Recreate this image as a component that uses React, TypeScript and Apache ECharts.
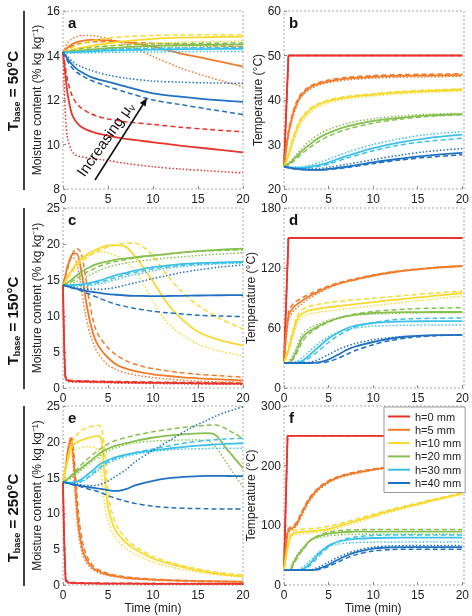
import React, { useEffect, useRef } from "react";
import * as echarts from "echarts";

const H_NAMES = ["h=0 mm", "h=5 mm", "h=10 mm", "h=20 mm", "h=30 mm", "h=40 mm"];
const H_COLORS = ["#e8352b", "#f27b2a", "#f9d92e", "#86c04f", "#3cc1ea", "#1f72c1"];

// Each h array: [solid, dashed, dotted]
// ---- Panel a : Tbase = 50°C, moisture ----
const T_A = [0, 0.25, 0.5, 1, 1.5, 2, 3, 4, 5, 7, 10, 13, 16, 20];
const A_H0 = [
  [14.15, 13.2, 12.3, 11.35, 11.0, 10.8, 10.6, 10.48, 10.4, 10.25, 10.1, 9.95, 9.82, 9.65],
  [14.15, 13.5, 12.9, 12.2, 11.85, 11.65, 11.4, 11.25, 11.15, 11.02, 10.9, 10.78, 10.68, 10.57],
  [14.15, 11.5, 10.3, 9.7, 9.5, 9.45, 9.38, 9.33, 9.28, 9.15, 9.0, 8.9, 8.82, 8.72],
];
const A_H5 = [
  [14.15, 14.25, 14.35, 14.5, 14.6, 14.65, 14.7, 14.7, 14.68, 14.6, 14.4, 14.1, 13.85, 13.5],
  [14.15, 14.22, 14.3, 14.42, 14.5, 14.55, 14.6, 14.62, 14.63, 14.6, 14.55, 14.5, 14.45, 14.4],
  [14.15, 14.35, 14.55, 14.75, 14.85, 14.9, 14.9, 14.85, 14.75, 14.5, 13.95, 13.45, 13.05, 12.6],
];
const A_H10 = [
  [14.15, 14.17, 14.2, 14.25, 14.3, 14.35, 14.42, 14.5, 14.55, 14.65, 14.75, 14.8, 14.82, 14.85],
  [14.15, 14.2, 14.25, 14.35, 14.45, 14.52, 14.63, 14.72, 14.78, 14.85, 14.9, 14.92, 14.93, 14.93],
  [14.15, 14.17, 14.2, 14.23, 14.27, 14.3, 14.35, 14.4, 14.45, 14.5, 14.55, 14.6, 14.62, 14.65],
];
const A_H20 = [
  [14.15, 14.15, 14.16, 14.18, 14.2, 14.22, 14.26, 14.3, 14.33, 14.38, 14.43, 14.46, 14.48, 14.5],
  [14.15, 14.16, 14.18, 14.22, 14.26, 14.3, 14.35, 14.4, 14.43, 14.48, 14.52, 14.54, 14.55, 14.56],
  [14.15, 14.15, 14.15, 14.16, 14.17, 14.18, 14.21, 14.24, 14.27, 14.31, 14.35, 14.37, 14.39, 14.4],
];
const A_H30 = [
  [14.15, 14.14, 14.14, 14.14, 14.15, 14.16, 14.18, 14.2, 14.22, 14.24, 14.26, 14.28, 14.29, 14.3],
  [14.15, 14.15, 14.15, 14.16, 14.17, 14.19, 14.22, 14.25, 14.27, 14.3, 14.32, 14.34, 14.35, 14.36],
  [14.15, 14.13, 14.12, 14.11, 14.11, 14.11, 14.12, 14.13, 14.14, 14.15, 14.16, 14.17, 14.18, 14.18],
];
const A_H40 = [
  [14.15, 14.0, 13.85, 13.6, 13.4, 13.27, 13.05, 12.92, 12.82, 12.6, 12.3, 12.15, 12.03, 11.92],
  [14.15, 13.95, 13.75, 13.45, 13.25, 13.12, 12.9, 12.75, 12.6, 12.35, 12.0, 11.8, 11.6, 11.35],
  [14.15, 14.05, 13.95, 13.75, 13.6, 13.5, 13.35, 13.22, 13.12, 12.98, 12.85, 12.8, 12.77, 12.75],
];

// ---- Panel b : Tbase = 50°C, temperature ----
const T_B = [0, 0.5, 1, 1.5, 2, 3, 4, 5, 7, 10, 13, 16, 20];
const B_RED = [25, 50, 50, 50, 50, 50, 50, 50, 50, 50, 50, 50, 50];
const B_H0 = [B_RED, B_RED, B_RED];
const B_H5 = [
  [25, 32.5, 36.8, 39.5, 41.2, 42.9, 43.7, 44.2, 44.8, 45.2, 45.4, 45.5, 45.6],
  [25, 33, 37.3, 40, 41.6, 43.2, 44, 44.5, 45.1, 45.5, 45.7, 45.8, 45.9],
  [25, 32, 36.2, 39, 40.8, 42.5, 43.4, 43.9, 44.5, 44.9, 45.1, 45.2, 45.3],
];
const B_H10 = [
  [25, 27.5, 31, 33.8, 35.8, 37.9, 39.1, 39.8, 40.6, 41.2, 41.7, 42, 42.3],
  [25, 27.8, 31.5, 34.3, 36.2, 38.2, 39.3, 40, 40.8, 41.4, 41.9, 42.2, 42.5],
  [25, 27, 30.3, 33, 35, 37.3, 38.6, 39.4, 40.2, 40.9, 41.4, 41.7, 42],
];
const B_H20 = [
  [25, 25.6, 26.5, 27.5, 28.5, 30.2, 31.6, 32.6, 34, 35.3, 36, 36.5, 36.8],
  [25, 25.4, 26.1, 27, 27.9, 29.5, 30.8, 31.9, 33.4, 34.8, 35.7, 36.3, 36.7],
  [25, 25.8, 26.9, 28, 29.1, 31, 32.4, 33.4, 34.7, 35.8, 36.4, 36.8, 37],
];
const B_H30 = [
  [25, 24.9, 24.8, 24.8, 24.8, 25.0, 25.4, 26, 27.4, 29.2, 30.5, 31.4, 32.2],
  [25, 24.9, 24.8, 24.7, 24.7, 24.8, 25.1, 25.6, 26.9, 28.6, 29.9, 30.7, 31.4],
  [25, 24.9, 24.9, 24.9, 25.0, 25.4, 26, 26.7, 28.2, 30, 31.3, 32.2, 32.9],
];
const B_H40 = [
  [25, 24.8, 24.6, 24.5, 24.4, 24.3, 24.3, 24.5, 25, 26, 26.8, 27.5, 28.1],
  [25, 24.8, 24.6, 24.5, 24.4, 24.3, 24.3, 24.4, 24.8, 25.7, 26.5, 27.1, 27.7],
  [25, 24.8, 24.7, 24.6, 24.5, 24.5, 24.6, 24.9, 25.5, 26.6, 27.6, 28.4, 29.1],
];

// ---- Panel c : Tbase = 150°C, moisture ----
const T_C = [0, 0.25, 0.5, 1, 1.5, 2, 2.5, 3, 3.5, 4, 5, 6, 7, 8, 9, 10, 11.5, 13, 15, 17.5, 20];
const C_H0 = [
  [14.3, 1.6, 1.05, 0.95, 0.92, 0.9, 0.9, 0.88, 0.86, 0.85, 0.83, 0.8, 0.78, 0.76, 0.74, 0.72, 0.7, 0.68, 0.65, 0.62, 0.6],
  [14.3, 1.9, 1.15, 1.05, 1.0, 0.98, 0.97, 0.96, 0.95, 0.94, 0.92, 0.9, 0.88, 0.86, 0.84, 0.82, 0.8, 0.78, 0.75, 0.72, 0.7],
  [14.3, 1.4, 0.95, 0.85, 0.82, 0.8, 0.8, 0.78, 0.76, 0.75, 0.73, 0.7, 0.68, 0.66, 0.64, 0.62, 0.6, 0.58, 0.55, 0.52, 0.5],
];
const C_H5 = [
  [14.3, 15.5, 16.8, 18.5, 18.7, 16.5, 12.5, 9.2, 7.0, 5.7, 4.2, 3.2, 2.7, 2.35, 2.1, 1.9, 1.7, 1.5, 1.35, 1.2, 1.05],
  [14.3, 15.3, 16.5, 18.5, 19.4, 18.8, 15.5, 11.5, 8.7, 7.2, 5.6, 4.5, 3.8, 3.3, 2.95, 2.7, 2.4, 2.15, 1.9, 1.7, 1.5],
  [14.3, 15.6, 17, 18.2, 17.5, 14, 10.2, 7.5, 5.8, 4.6, 3.2, 2.5, 2.1, 1.8, 1.6, 1.45, 1.25, 1.1, 0.95, 0.85, 0.8],
];
const C_H10 = [
  [14.3, 14.8, 15.4, 16.4, 17.3, 17.9, 18.4, 18.8, 19.1, 19.4, 19.8, 19.8, 19.6, 18.3, 16.6, 14.8, 11.9, 9.8, 7.8, 6.6, 5.9],
  [14.3, 14.7, 15.2, 16.1, 16.9, 17.5, 18, 18.4, 18.8, 19.1, 19.6, 19.9, 20.1, 20.1, 19.5, 18.3, 15.8, 13.6, 11.5, 9.6, 8.2],
  [14.3, 14.8, 15.4, 16.3, 17.1, 17.7, 18.2, 18.5, 18.8, 18.9, 18.8, 18.3, 17.5, 16.3, 14.3, 12.0, 9.2, 7.6, 6.1, 5.1, 4.5],
];
const C_H20 = [
  [14.3, 14.4, 14.6, 15.1, 15.6, 16.1, 16.5, 16.8, 17.1, 17.3, 17.6, 17.85, 18.0, 18.15, 18.3, 18.4, 18.6, 18.8, 19.0, 19.2, 19.35],
  [14.3, 14.35, 14.45, 14.8, 15.2, 15.6, 16.0, 16.3, 16.6, 16.9, 17.3, 17.6, 17.85, 18.05, 18.25, 18.4, 18.6, 18.8, 19.0, 19.1, 19.2],
  [14.3, 14.3, 14.35, 14.5, 14.8, 15.1, 15.4, 15.7, 16.0, 16.3, 16.8, 17.1, 17.35, 17.55, 17.7, 17.85, 18.05, 18.2, 18.4, 18.6, 18.75],
];
const C_H30 = [
  [14.3, 14.25, 14.25, 14.3, 14.35, 14.4, 14.5, 14.6, 14.75, 14.9, 15.3, 15.7, 16.0, 16.3, 16.55, 16.8, 17.0, 17.2, 17.35, 17.45, 17.5],
  [14.3, 14.25, 14.2, 14.2, 14.25, 14.3, 14.38, 14.45, 14.55, 14.7, 15.0, 15.4, 15.75, 16.05, 16.3, 16.55, 16.8, 17.0, 17.2, 17.35, 17.45],
  [14.3, 14.2, 14.15, 14.1, 14.1, 14.15, 14.2, 14.25, 14.35, 14.45, 14.75, 15.1, 15.45, 15.75, 16.0, 16.3, 16.6, 16.85, 17.05, 17.25, 17.35],
];
const C_H40 = [
  [14.3, 14.2, 14.1, 13.95, 13.8, 13.65, 13.5, 13.4, 13.3, 13.2, 13.05, 12.95, 12.85, 12.8, 12.78, 12.77, 12.78, 12.8, 12.85, 12.88, 12.9],
  [14.3, 14.2, 14.1, 13.9, 13.7, 13.5, 13.25, 13.0, 12.75, 12.5, 12.0, 11.6, 11.3, 11.05, 10.85, 10.65, 10.45, 10.3, 10.1, 10.0, 9.9],
  [14.3, 14.2, 14.1, 13.95, 13.85, 13.8, 13.75, 13.7, 13.7, 13.7, 13.8, 14.0, 14.3, 14.6, 14.9, 15.2, 15.6, 16.0, 16.4, 16.8, 17.1],
];

// ---- Panel d : Tbase = 150°C, temperature ----
const T_D = [0, 0.5, 1, 1.5, 2, 2.5, 3, 4, 5, 6, 7, 8, 10, 12, 14, 17, 20];
const D_RED = [25, 150, 150, 150, 150, 150, 150, 150, 150, 150, 150, 150, 150, 150, 150, 150, 150];
const D_H0 = [D_RED, D_RED, D_RED];
const D_H5 = [
  [25, 72, 80, 84, 87, 90, 92.5, 97, 101, 104, 106.5, 108.5, 112.5, 115.5, 117.8, 120.3, 122],
  [25, 76, 84, 87.5, 90, 92.5, 94.5, 98.5, 102, 105, 107.3, 109.2, 113, 116, 118.2, 120.6, 122.3],
  [25, 68, 76, 80.5, 84, 87.5, 90.5, 95.5, 100, 103.3, 106, 108, 112, 115, 117.4, 120, 121.6],
];
const D_H10 = [
  [25, 38, 55, 69, 74, 76.5, 78, 79.5, 80.8, 81.8, 82.8, 83.8, 85.8, 87.8, 89.6, 92.3, 95],
  [25, 40, 58, 72, 78, 80.5, 82, 84, 85.5, 86.5, 87.5, 88.3, 89.8, 91.3, 92.8, 95, 97],
  [25, 36, 51, 65, 70.5, 73, 74.5, 76, 77.2, 78.2, 79.2, 80.2, 82.2, 84.3, 86.3, 89.2, 92],
];
const D_H20 = [
  [25, 25, 30, 39, 49.5, 54.5, 57.5, 62.5, 66.5, 69.5, 71.8, 73.3, 75, 75.7, 75.9, 76, 76],
  [25, 25, 28.5, 36, 45.5, 51.5, 55.5, 61.5, 66, 69.5, 72, 74, 76.5, 78, 79, 79.8, 80.3],
  [25, 26, 33, 43, 53, 57.5, 60.5, 64.5, 67.5, 70, 71.8, 72.8, 74, 74.6, 75, 75.2, 75.3],
];
const D_H30 = [
  [25, 25, 25, 25.5, 27, 30, 34, 42, 49.5, 55, 59.5, 62.3, 65, 66.2, 66.6, 66.8, 66.8],
  [25, 25, 25, 25.2, 26, 28, 31, 38, 45.5, 52, 57, 61, 65.5, 68, 69.2, 69.8, 70],
  [25, 25, 25.5, 27, 30, 34, 38, 45.5, 51.5, 55.5, 58.3, 60, 61.8, 62.5, 62.8, 63, 63],
];
const D_H40 = [
  [25, 25, 25, 25, 25, 25, 25, 25.8, 28.5, 33, 38, 41.5, 46, 49.5, 51.5, 52.8, 53.2],
  [25, 25, 25, 25, 25, 25, 25, 25.3, 26.5, 29.5, 33.5, 37.5, 43.3, 47.5, 50.3, 52.3, 53.3],
  [25, 25, 25, 25, 25, 25.3, 26, 29, 33.5, 38, 41.8, 44.5, 48.3, 50.5, 51.8, 52.6, 53],
];

// ---- Panel e : Tbase = 250°C, moisture ----
const T_E = [0, 0.3, 0.6, 0.9, 1.2, 1.5, 1.8, 2.2, 2.6, 3, 3.5, 4, 4.3, 4.6, 5, 5.5, 6, 7, 8, 10, 12, 14, 16, 17, 18, 19, 20];
const E_H0 = [
  [14.4, 0.6, 0.35, 0.3, 0.28, 0.27, 0.26, 0.25, 0.24, 0.23, 0.22, 0.21, 0.2, 0.2, 0.2, 0.2, 0.2, 0.19, 0.18, 0.17, 0.16, 0.15, 0.15, 0.15, 0.15, 0.15, 0.15],
  [14.4, 0.8, 0.45, 0.38, 0.35, 0.33, 0.32, 0.31, 0.3, 0.29, 0.28, 0.27, 0.26, 0.26, 0.25, 0.25, 0.25, 0.24, 0.23, 0.22, 0.21, 0.2, 0.2, 0.2, 0.2, 0.2, 0.2],
  [14.4, 0.5, 0.28, 0.24, 0.22, 0.21, 0.2, 0.19, 0.18, 0.17, 0.16, 0.15, 0.15, 0.15, 0.14, 0.14, 0.14, 0.13, 0.12, 0.11, 0.1, 0.1, 0.1, 0.1, 0.1, 0.1, 0.1],
];
const E_H5 = [
  [14.4, 16.5, 19.2, 20.4, 17.0, 11.5, 7.5, 4.8, 3.6, 2.8, 2.2, 1.9, 1.75, 1.6, 1.45, 1.3, 1.2, 1.0, 0.9, 0.75, 0.65, 0.58, 0.52, 0.5, 0.48, 0.46, 0.45],
  [14.4, 16.3, 19.0, 20.8, 18.5, 13.5, 9.0, 5.8, 4.2, 3.2, 2.5, 2.1, 1.95, 1.8, 1.62, 1.45, 1.33, 1.12, 1.0, 0.82, 0.7, 0.62, 0.56, 0.54, 0.52, 0.5, 0.48],
  [14.4, 16.6, 19.3, 19.8, 15.5, 10.0, 6.5, 4.2, 3.1, 2.5, 2.0, 1.7, 1.55, 1.45, 1.32, 1.2, 1.1, 0.92, 0.82, 0.68, 0.6, 0.53, 0.48, 0.46, 0.44, 0.42, 0.4],
];
const E_H10 = [
  [14.4, 16.3, 17.8, 19.0, 19.6, 19.9, 20.1, 20.3, 20.45, 20.6, 20.75, 20.8, 20.2, 15.5, 11.0, 8.6, 7.3, 5.9, 5.0, 3.7, 2.9, 2.3, 1.8, 1.6, 1.45, 1.3, 1.2],
  [14.4, 16.5, 18.2, 19.6, 20.4, 20.9, 21.3, 21.7, 21.9, 22.1, 22.2, 22.3, 21.9, 19.0, 13.0, 9.8, 8.2, 6.5, 5.4, 4.0, 3.1, 2.5, 2.0, 1.8, 1.65, 1.5, 1.4],
  [14.4, 16.0, 17.3, 18.2, 18.6, 18.9, 19.1, 19.2, 19.3, 19.3, 19.2, 18.5, 14.5, 11.5, 9.0, 7.3, 6.3, 5.1, 4.3, 3.2, 2.5, 2.0, 1.6, 1.45, 1.3, 1.2, 1.1],
];
const E_H20 = [
  [14.4, 14.6, 14.9, 15.2, 15.5, 15.8, 16.1, 16.5, 16.9, 17.3, 17.8, 18.3, 18.55, 18.8, 19.05, 19.3, 19.5, 19.8, 20.1, 20.6, 20.9, 21.1, 21.2, 20.9, 19.3, 17.8, 16.3],
  [14.4, 14.6, 14.9, 15.3, 15.7, 16.1, 16.5, 17.0, 17.5, 17.9, 18.4, 18.9, 19.15, 19.4, 19.7, 20.0, 20.25, 20.6, 20.9, 21.4, 21.8, 22.1, 22.3, 22.35, 21.9, 21.2, 20.5],
  [14.4, 14.5, 14.7, 14.9, 15.2, 15.5, 15.8, 16.2, 16.6, 17.0, 17.5, 17.9, 18.15, 18.4, 18.7, 19.0, 19.2, 19.6, 19.85, 20.1, 20.2, 20.25, 20.2, 19.2, 17.4, 15.5, 13.7],
];
const E_H30 = [
  [14.4, 14.35, 14.3, 14.3, 14.35, 14.45, 14.6, 14.9, 15.3, 15.7, 16.2, 16.8, 17.0, 17.2, 17.45, 17.7, 17.9, 18.2, 18.45, 18.8, 19.1, 19.35, 19.55, 19.65, 19.7, 19.75, 19.8],
  [14.4, 14.3, 14.25, 14.2, 14.25, 14.3, 14.4, 14.6, 14.9, 15.3, 15.8, 16.3, 16.6, 16.9, 17.2, 17.5, 17.75, 18.15, 18.5, 19.0, 19.5, 19.9, 20.2, 20.3, 20.4, 20.45, 20.5],
  [14.4, 14.3, 14.2, 14.15, 14.15, 14.2, 14.3, 14.5, 14.8, 15.1, 15.6, 16.1, 16.4, 16.7, 17.0, 17.3, 17.55, 17.95, 18.25, 18.65, 18.9, 19.0, 19.05, 19.1, 19.1, 19.1, 19.1],
];
const E_H40 = [
  [14.4, 14.3, 14.2, 14.1, 14.0, 13.95, 13.9, 13.8, 13.7, 13.65, 13.55, 13.45, 13.4, 13.35, 13.25, 13.15, 13.15, 13.4, 13.9, 14.55, 14.95, 15.15, 15.25, 15.25, 15.25, 15.2, 15.2],
  [14.4, 14.3, 14.2, 14.1, 14.0, 13.9, 13.8, 13.65, 13.5, 13.35, 13.2, 13.0, 12.85, 12.7, 12.5, 12.25, 12.05, 11.7, 11.4, 11.0, 10.8, 10.7, 10.65, 10.6, 10.6, 10.6, 10.6],
  [14.4, 14.3, 14.2, 14.15, 14.1, 14.05, 14.0, 13.95, 13.9, 13.9, 13.9, 14.0, 14.1, 14.25, 14.5, 14.9, 15.3, 16.1, 17.2, 18.8, 20.3, 21.8, 23.0, 23.6, 24.1, 24.5, 24.9],
];

// ---- Panel f : Tbase = 250°C, temperature ----
const T_F = [0, 0.4, 0.7, 1, 1.4, 1.8, 2.2, 2.8, 3.4, 4, 5, 6, 7, 8, 10, 12, 14, 17, 20];
const F_RED = [25, 250, 250, 250, 250, 250, 250, 250, 250, 250, 250, 250, 250, 250, 250, 250, 250, 250, 250];
const F_H0 = [F_RED, F_RED, F_RED];
const F_H5 = [
  [25, 88, 94, 96, 102, 114, 126, 142, 154, 163, 173, 180, 184.5, 188, 193.5, 197.5, 200.5, 203, 205],
  [25, 92, 97, 99, 105, 117, 129, 145, 156, 165, 175, 181.5, 186, 189.5, 194.5, 198.5, 201.3, 203.8, 205.5],
  [25, 84, 91, 93.5, 99, 110, 122, 139, 151, 160.5, 171, 178.5, 183, 186.5, 192.5, 196.5, 199.7, 202.3, 204.5],
];
const F_H10 = [
  [25, 62, 80, 86, 88, 89, 89.5, 90, 90.5, 91.5, 94, 98, 102.5, 107, 116, 124.5, 132, 143, 153],
  [25, 66, 84, 90, 92.5, 93.5, 94, 94.5, 95, 96, 98.5, 102, 106, 110, 118.5, 126.5, 134, 144.5, 154.5],
  [25, 58, 76, 82.5, 85, 86, 86.5, 87, 87.5, 88.5, 91, 95, 99.5, 104, 113.5, 122.5, 130, 141.5, 152],
];
const F_H20 = [
  [25, 25, 25, 35, 46, 55, 62, 73, 79, 82.5, 86, 87.8, 88.8, 89.3, 89.5, 89.5, 89.5, 89.5, 89.5],
  [25, 25, 25, 33, 43, 52.5, 60.5, 72, 79.5, 84, 88.5, 90.8, 92, 92.6, 93, 93, 93, 93, 93],
  [25, 25, 26, 38, 49, 57.5, 64, 73, 77.5, 80, 82.5, 83.8, 84.5, 84.8, 85, 85, 85, 85, 85],
];
const F_H30 = [
  [25, 25, 25, 25, 25, 25, 27, 34, 44, 54, 66, 72.5, 75.5, 77.3, 78.8, 79.2, 79.3, 79.3, 79.3],
  [25, 25, 25, 25, 25, 25, 26, 31.5, 40, 50, 64, 72.5, 77.5, 80.5, 83, 83.8, 84, 84, 84],
  [25, 25, 25, 25, 25.5, 27, 31, 39, 48, 56, 64.5, 68.5, 70.3, 71.2, 71.8, 72, 72, 72, 72],
];
const F_H40 = [
  [25, 25, 25, 25, 25, 25, 25, 25, 25.5, 28, 34, 42, 49, 54.5, 61, 63, 63.5, 63.5, 63.5],
  [25, 25, 25, 25, 25, 25, 25, 25, 25, 26.5, 31, 38, 45, 50.5, 57, 59.3, 60, 60, 60],
  [25, 25, 25, 25, 25, 25, 25, 25.5, 27, 31, 38.5, 46, 52.5, 57.5, 63.5, 65.5, 66, 66, 66],
];

const MOIST_NAME = "Moisture content (% kg kg⁻¹)";
const TEMP_NAME = "Temperature (°C)";
const TBASE_LABELS = ["50°C", "150°C", "250°C"];
const PANEL_LETTERS = ["a", "b", "c", "d", "e", "f"];

const PANELS = [
  { grid: { left: 63, top: 11, width: 180, height: 178 }, t: T_A, hs: [A_H0, A_H5, A_H10, A_H20, A_H30, A_H40], y: [8, 16, 2], temp: false, gap: 16 },
  { grid: { left: 284, top: 11, width: 180, height: 178 }, t: T_B, hs: [B_H0, B_H5, B_H10, B_H20, B_H30, B_H40], y: [20, 60, 10], temp: true, gap: 18 },
  { grid: { left: 63, top: 208, width: 180, height: 180 }, t: T_C, hs: [C_H0, C_H5, C_H10, C_H20, C_H30, C_H40], y: [0, 25, 5], temp: false, gap: 16 },
  { grid: { left: 284, top: 208, width: 180, height: 180 }, t: T_D, hs: [D_H0, D_H5, D_H10, D_H20, D_H30, D_H40], y: [0, 180, 60], temp: true, gap: 24 },
  { grid: { left: 63, top: 406, width: 180, height: 179 }, t: T_E, hs: [E_H0, E_H5, E_H10, E_H20, E_H30, E_H40], y: [0, 25, 5], temp: false, gap: 16 },
  { grid: { left: 284, top: 406, width: 180, height: 179 }, t: T_F, hs: [F_H0, F_H5, F_H10, F_H20, F_H30, F_H40], y: [0, 300, 100], temp: true, gap: 24 },
];

const LINE_TYPES: any[] = ["solid", [5, 3], [1.5, 2]];
const LINE_WIDTHS = [1.8, 1.5, 1.5];

export default function App() {
  const ref = useRef<HTMLDivElement>(null);
  useEffect(() => {
    if (!ref.current) return;
    const chart = echarts.init(ref.current, null, { renderer: "svg" });
    const font = "Liberation Sans, Arial, Helvetica, sans-serif";

    const grids = PANELS.map((p) => ({ ...p.grid, containLabel: false }));
    const xAxes = PANELS.map((p, i) => ({
      type: "value",
      gridIndex: i,
      min: 0,
      max: 20,
      interval: 5,
      axisLine: { show: false },
      axisTick: { show: true, inside: true, length: 3, lineStyle: { color: "#888" } },
      splitLine: { show: false },
      axisLabel: { fontSize: 12, color: "#222", margin: 4, fontFamily: font },
      name: i >= 4 ? "Time (min)" : "",
      nameLocation: "middle",
      nameGap: 14,
      nameTextStyle: { fontSize: 12, color: "#222", fontFamily: font, verticalAlign: "top" },
    }));
    const yAxes = PANELS.map((p, i) => ({
      type: "value",
      gridIndex: i,
      min: p.y[0],
      max: p.y[1],
      interval: p.y[2],
      axisLine: { show: false },
      axisTick: { show: true, inside: true, length: 3, lineStyle: { color: "#888" } },
      splitLine: { show: false },
      axisLabel: { fontSize: 12, color: "#222", margin: 3, fontFamily: font },
      name: p.temp ? TEMP_NAME : MOIST_NAME,
      nameLocation: "middle",
      nameRotate: 90,
      nameGap: p.gap,
      nameTextStyle: { fontSize: 12, color: "#222", fontFamily: font },
    }));

    const series: any[] = [];
    PANELS.forEach((p, pi) => {
      p.hs.forEach((hArr, hi) => {
        [2, 1, 0].forEach((si) => {
          const vals = hArr[si];
          series.push({
            type: "line",
            name: H_NAMES[hi],
            xAxisIndex: pi,
            yAxisIndex: pi,
            data: p.t.map((x, k) => [x, vals[k]]),
            symbol: "none",
            showSymbol: false,
            smooth: p.temp && hi === 0 ? false : 0.3,
            lineStyle: { color: H_COLORS[hi], width: LINE_WIDTHS[si], type: LINE_TYPES[si] },
            itemStyle: { color: H_COLORS[hi] },
          });
        });
      });
    });

    const graphics: any[] = [];
    PANELS.forEach((p, i) => {
      const g = p.grid;
      graphics.push({
        type: "rect",
        shape: { x: g.left, y: g.top, width: g.width, height: g.height },
        style: { fill: "none", stroke: "#a8a8a8", lineWidth: 1, lineDash: [2, 2] },
        silent: true,
        z: 1,
      });
      graphics.push({
        type: "text",
        x: g.left + 5,
        y: g.top + 4,
        style: { text: PANEL_LETTERS[i], fontSize: 15, fontWeight: "bold", fill: "#111", fontFamily: font },
        z: 10,
      });
    });
    const tbaseCenters = [91, 321, 518];
    [0, 2, 4].forEach((pi, k) => {
      const g = PANELS[pi].grid;
      graphics.push({
        type: "line",
        shape: { x1: 24, y1: g.top, x2: 24, y2: g.top + g.height + 1 },
        style: { stroke: "#111", lineWidth: 1.6 },
      });
      graphics.push({
        type: "text",
        x: 12,
        y: tbaseCenters[k],
        rotation: Math.PI / 2,
        style: {
          text: "{T|T}{s|base}{T| = " + TBASE_LABELS[k] + "}",
          align: "center",
          verticalAlign: "middle",
          fontFamily: font,
          rich: {
            T: { fontSize: 15, fontWeight: "bold", fill: "#111", lineHeight: 18, fontFamily: font },
            s: { fontSize: 9, fontWeight: "bold", fill: "#111", lineHeight: 9, verticalAlign: "bottom", fontFamily: font },
          },
        },
      });
    });
    // Arrow "Increasing μv"
    graphics.push({
      type: "line",
      shape: { x1: 95, y1: 180, x2: 144, y2: 103 },
      style: { stroke: "#111", lineWidth: 1.6 },
      z: 10,
    });
    graphics.push({
      type: "polygon",
      shape: { points: [[147, 98], [145.6, 106.6], [139.8, 102.9]] },
      style: { fill: "#111" },
      z: 10,
    });
    graphics.push({
      type: "text",
      x: 105,
      y: 139,
      rotation: (55 * Math.PI) / 180,
      style: {
        text: "{n|Increasing μ}{s|v}",
        align: "center",
        verticalAlign: "middle",
        fontFamily: font,
        rich: {
          n: { fontSize: 15, fill: "#111", lineHeight: 18, fontFamily: font },
          s: { fontSize: 10, fill: "#111", lineHeight: 10, verticalAlign: "bottom", fontFamily: font },
        },
      },
      z: 10,
    });

    chart.setOption({
      animation: false,
      textStyle: { fontFamily: font },
      grid: grids,
      xAxis: xAxes,
      yAxis: yAxes,
      series,
      legend: {
        data: H_NAMES,
        orient: "vertical",
        left: 384,
        top: 407,
        icon: "rect",
        itemWidth: 22,
        itemHeight: 2,
        itemGap: 2.3,
        padding: [4, 4, 4, 4],
        backgroundColor: "#fff",
        borderColor: "#999",
        borderWidth: 1,
        textStyle: { fontSize: 11, lineHeight: 11, color: "#222", fontFamily: font },
        selectedMode: false,
      },
      graphic: graphics,
    });
    return () => chart.dispose();
  }, []);
  return <div ref={ref} style={{ position: "fixed", left: 0, top: 0, width: 472, height: 616 }} />;
}
